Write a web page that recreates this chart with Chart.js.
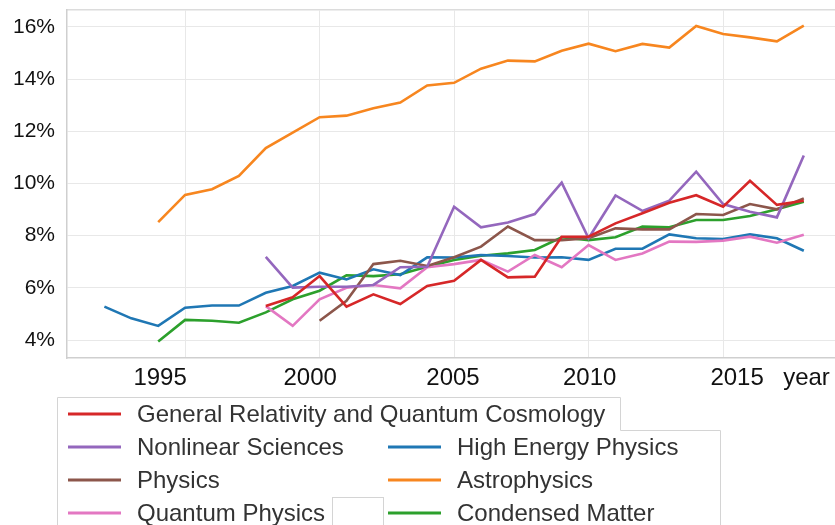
<!DOCTYPE html>
<html>
<head>
<meta charset="utf-8">
<script src="https://cdn.jsdelivr.net/npm/chart.js@4"></script>
<style>
  body { margin: 0; background: #fff; }
  #wrap { width: 835px; height: 525px; position: relative; }
</style>
</head>
<body>
<div id="wrap"><canvas id="myChart"></canvas></div>
<script>
// years on the x axis
const years = [1992, 1993, 1994, 1995, 1996, 1997, 1998, 1999, 2000, 2001, 2002, 2003, 2004, 2005,
  2006, 2007, 2008, 2009, 2010, 2011, 2012, 2013, 2014, 2015, 2016, 2017, 2018];

// share per year (%), null = no data
const grqc = [null, null, null, null, null, null, 5.30, 5.64, 6.45, 5.28, 5.75, 5.38, 6.07, 6.27,
  7.07, 6.40, 6.43, 7.96, 7.96, 8.47, 8.86, 9.26, 9.55, 9.11, 10.10, 9.18, 9.34];
const nonlinear = [null, null, null, null, null, null, 7.19, 6.01, 6.04, 6.04, 6.11, 6.79, 6.81, 9.11,
  8.32, 8.50, 8.83, 10.03, 7.90, 9.54, 8.95, 9.34, 10.45, 9.21, 8.92, 8.70, 11.07];
const physics = [null, null, null, null, null, null, null, null, 4.74, 5.50, 6.91, 7.04, 6.84, 7.17,
  7.58, 8.35, 7.83, 7.83, 7.90, 8.28, 8.24, 8.24, 8.83, 8.79, 9.21, 9.01, 9.43];
const quantum = [null, null, null, null, null, null, 5.30, 4.54, 5.56, 6.00, 6.11, 5.98, 6.79, 6.91,
  7.07, 6.62, 7.26, 6.79, 7.64, 7.07, 7.32, 7.77, 7.76, 7.81, 7.96, 7.73, 8.03];
const hep = [5.28, 4.83, 4.54, 5.24, 5.32, 5.32, 5.81, 6.07, 6.58, 6.32, 6.71, 6.49, 7.17, 7.16,
  7.26, 7.22, 7.16, 7.17, 7.07, 7.50, 7.50, 8.05, 7.90, 7.87, 8.05, 7.90, 7.42];
const astro = [null, null, 8.52, 9.56, 9.78, 10.29, 11.36, 11.95, 12.54, 12.60, 12.88, 13.10, 13.76, 13.86,
  14.40, 14.71, 14.68, 15.09, 15.36, 15.07, 15.35, 15.21, 16.04, 15.73, 15.60, 15.45, 16.05];
const condmat = [null, null, 3.94, 4.77, 4.74, 4.66, 5.06, 5.56, 5.89, 6.48, 6.45, 6.52, 6.81, 7.07,
  7.23, 7.32, 7.45, 7.94, 7.83, 7.94, 8.35, 8.32, 8.60, 8.60, 8.75, 9.01, 9.30];

const seriesNames = ["General Relativity and Quantum Cosmology", "Nonlinear Sciences", "Physics",
  "Quantum Physics", "High Energy Physics", "Astrophysics", "Condensed Matter"];
const seriesColors = ["#d62728", "#9467bd", "#8c564b", "#e377c2", "#1f77b4", "#f7861f", "#2ca02c"];
const seriesValues = [grqc, nonlinear, physics, quantum, hep, astro, condmat];

// tick labels (placed where the picture has them) and grid years
const tickLabels = ["1995", "2000", "2005", "2010", "2015", "year"];
const tickPos = [1994.07, 1999.65, 2004.96, 2010.04, 2015.52, 2018.1];
const gridYears = [1995, 2000, 2005, 2010, 2015];
const yTicks = [4, 6, 8, 10, 12, 14, 16];

// legend slots: [dataset index, column, row]
const legendSlots = [[0, 0, 0], [1, 0, 1], [4, 1, 1], [2, 0, 2], [5, 1, 2], [3, 0, 3], [6, 1, 3]];

const FONT = "'Liberation Sans', Arial, sans-serif";

const data = {
  datasets: seriesNames.map((name, i) => ({
    label: name,
    data: years.map((yr, j) => ({ x: yr, y: seriesValues[i][j] })),
    borderColor: seriesColors[i],
    backgroundColor: seriesColors[i],
    borderWidth: 2.6,
    pointRadius: 0,
    tension: 0,
  })),
};

// legend box drawn under the plot
const boxLegend = {
  id: "boxLegend",
  afterDraw(chart) {
    const ctx = chart.ctx;
    ctx.save();
    ctx.strokeStyle = "#d4d4d4";
    ctx.lineWidth = 1;
    ctx.beginPath();
    ctx.moveTo(57.5, 525);
    ctx.lineTo(57.5, 397.5);
    ctx.lineTo(620.5, 397.5);
    ctx.lineTo(620.5, 430.5);
    ctx.lineTo(720.5, 430.5);
    ctx.lineTo(720.5, 525);
    ctx.stroke();
    ctx.strokeRect(332.5, 497.5, 51, 30);

    const colX = [68, 388];
    const rowY = [414, 447, 480, 513];
    ctx.font = "24px " + FONT;
    ctx.textBaseline = "middle";
    ctx.textAlign = "left";
    legendSlots.forEach(([di, col, row]) => {
      const ds = chart.data.datasets[di];
      ctx.strokeStyle = ds.borderColor;
      ctx.lineWidth = 3;
      ctx.beginPath();
      ctx.moveTo(colX[col], rowY[row]);
      ctx.lineTo(colX[col] + 53, rowY[row]);
      ctx.stroke();
      ctx.fillStyle = "#333";
      ctx.fillText(ds.label, colX[col] + 69, rowY[row] + 1);
    });
    ctx.restore();
  },
};

const config = {
  type: "line",
  data: data,
  options: {
    responsive: true,
    maintainAspectRatio: false,
    animation: false,
    layout: { padding: { top: 10, bottom: 127, left: 0, right: 0 } },
    plugins: {
      legend: { display: false },
      tooltip: { enabled: false },
    },
    scales: {
      x: {
        type: "linear",
        min: 1990.61,
        max: 2019.16,
        afterBuildTicks: (scale) => {
          scale.ticks = tickPos.map((v) => ({ value: v }));
        },
        afterFit: (scale) => {
          scale.height = 40;
          scale.paddingLeft = 0;
          scale.paddingRight = 0;
        },
        grid: { display: false },
        border: { display: true, color: "#cfcfcf", width: 1.5 },
        ticks: {
          autoSkip: false,
          maxRotation: 0,
          padding: -2,
          color: "#111",
          font: { family: FONT, size: 24 },
          callback: (v, i) => tickLabels[i],
        },
      },
      x2: {
        type: "linear",
        position: "top",
        min: 1990.61,
        max: 2019.16,
        afterBuildTicks: (scale) => {
          scale.ticks = gridYears.map((v) => ({ value: v }));
        },
        afterFit: (scale) => {
          scale.height = 0;
          scale.paddingLeft = 0;
          scale.paddingRight = 0;
        },
        grid: { color: "#e8e8e8", lineWidth: 1, drawTicks: false },
        border: { display: true, color: "#dcdcdc", width: 1.5 },
        ticks: { display: false },
      },
      y: {
        min: 3.31,
        max: 16.65,
        afterBuildTicks: (scale) => {
          scale.ticks = yTicks.map((v) => ({ value: v }));
        },
        afterFit: (scale) => {
          scale.width = 67;
          scale.paddingTop = 0;
          scale.paddingBottom = 0;
        },
        grid: { color: "#e8e8e8", lineWidth: 1, drawTicks: false },
        border: { display: true, color: "#cfcfcf", width: 1.5 },
        ticks: {
          padding: 12,
          color: "#111",
          font: { family: FONT, size: 21 },
          callback: (v) => v + "%",
        },
      },
    },
  },
  plugins: [boxLegend],
};

const myChart = new Chart(document.getElementById("myChart"), config);
</script>
</body>
</html>
